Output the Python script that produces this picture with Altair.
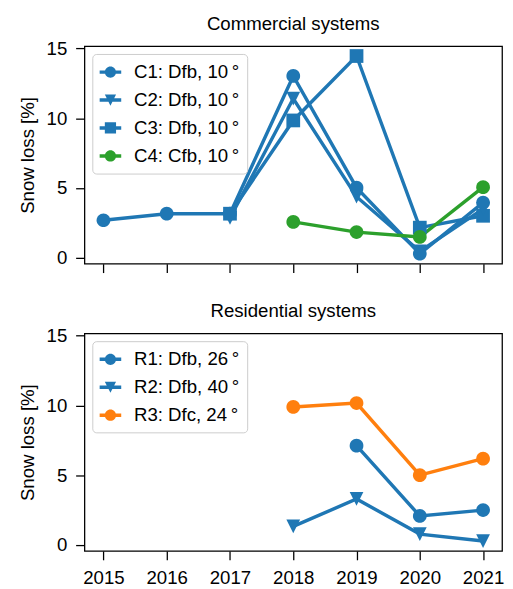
import altair as alt
import pandas as pd

years = [2015, 2016, 2017, 2018, 2019, 2020, 2021]

# Commercial systems
commercial_names = ["C1: Dfb, 10\u2009°", "C2: Dfb, 10\u2009°", "C3: Dfb, 10\u2009°", "C4: Cfb, 10\u2009°"]
c1 = [2.68, 3.15, 3.15, 13.03, 5.02, 0.28, 3.94]
c2 = [None, None, 2.85, 11.41, 4.37, 0.45, 3.50]
c3 = [None, None, 3.15, 9.84, 14.46, 2.15, 3.00]
c4 = [None, None, None, 2.56, 1.83, 1.48, 5.05]
commercial_colors = ["#1f77b4", "#1f77b4", "#1f77b4", "#2ca02c"]
commercial_markers = ["circle", "triangle", "square", "circle"]

# Residential systems
residential_names = ["R1: Dfb, 26\u2009°", "R2: Dfb, 40\u2009°", "R3: Dfc, 24\u2009°"]
r1 = [None, None, None, None, 7.11, 2.07, 2.49]
r2 = [None, None, None, 1.32, 3.29, 0.77, 0.27]
r3 = [None, None, None, 9.89, 10.17, 5.00, 6.18]
residential_colors = ["#1f77b4", "#1f77b4", "#ff7f0e"]
residential_markers = ["circle", "triangle", "circle"]

y_ticks = [0, 5, 10, 15]

FONT = "Liberation Sans"
FS = 19

PLOT_PATHS = {
    "circle": "M1,0 A1,1 0 1,1 -1,0 A1,1 0 1,1 1,0 Z",
    "triangle": "M-1,-1 L1,-1 L0,1 Z",
    "square": "M-1,-1 L1,-1 L1,1 L-1,1 Z",
}
_bar = "M-1,-0.16 L1,-0.16 L1,0.16 L-1,0.16 Z "
LEGEND_PATHS = {
    "circle": _bar + "M0.52,0 A0.52,0.52 0 1,1 -0.52,0 A0.52,0.52 0 1,1 0.52,0 Z",
    "triangle": _bar + "M-0.52,-0.52 L0.52,-0.52 L0,0.52 Z",
    "square": _bar + "M-0.52,-0.52 L0.52,-0.52 L0.52,0.52 L-0.52,0.52 Z",
}


def panel(title, names, series, colors, markers, draw_order, show_labels):
    rows = []
    for idx in draw_order:
        for yr, v in zip(years, series[idx]):
            if v is not None:
                rows.append({"year": yr, "value": v, "series": names[idx]})
    df = pd.DataFrame(rows)

    x = alt.X(
        "year:Q",
        scale=alt.Scale(domain=[2014.7, 2021.3], nice=False, zero=False),
        axis=alt.Axis(values=years, format="d", labels=show_labels, title=None),
    )
    y = alt.Y(
        "value:Q",
        scale=alt.Scale(domain=[-0.44, 15.17], nice=False, zero=False),
        axis=alt.Axis(values=y_ticks, title="Snow loss [%]"),
    )
    color = alt.Color("series:N", scale=alt.Scale(domain=names, range=colors), legend=None)
    shape = alt.Shape(
        "series:N",
        scale=alt.Scale(domain=names, range=[PLOT_PATHS[m] for m in markers]),
        legend=None,
    )

    base = alt.Chart(df)
    lines = base.mark_line(strokeWidth=3.5).encode(x=x, y=y, color=color)
    points = base.mark_point(filled=True, opacity=1, size=196, strokeWidth=0).encode(
        x=x, y=y, color=color, shape=shape
    )

    leg = dict(
        title=None,
        orient="top-left",
        offset=8,
        padding=7.5,
        strokeColor="#cccccc",
        fillColor="rgba(255,255,255,0.8)",
        cornerRadius=4,
        labelFont=FONT,
        labelFontSize=FS,
        labelColor="black",
        labelOffset=13,
        symbolSize=484,
        symbolStrokeWidth=0,
        symbolOpacity=1,
        rowPadding=7.5,
    )
    legend_layer = (
        alt.Chart(df)
        .transform_filter("false")
        .mark_point(filled=True, opacity=1, size=484, strokeWidth=0)
        .encode(
            color=alt.Color("series:N", scale=alt.Scale(domain=names, range=colors), legend=alt.Legend(**leg)),
            shape=alt.Shape(
                "series:N",
                scale=alt.Scale(domain=names, range=[LEGEND_PATHS[m] for m in markers]),
                legend=alt.Legend(**leg),
            ),
        )
    )

    return (
        alt.layer(alt.layer(lines, points), legend_layer)
        .resolve_scale(color="independent", shape="independent")
        .properties(
            width=426,
            height=222,
            title=alt.TitleParams(title, anchor="middle", frame="group"),
        )
    )


top = panel("Commercial systems", commercial_names, [c1, c2, c3, c4],
            commercial_colors, commercial_markers, [2, 1, 0, 3], False)
bottom = panel("Residential systems", residential_names, [r1, r2, r3],
               residential_colors, residential_markers, [0, 1, 2], True)

chart = (
    alt.vconcat(top, bottom, spacing=27)
    .properties(padding={"left": 10, "top": 0, "right": 0, "bottom": 0})
    .configure_view(stroke="black", strokeWidth=1.3)
    .configure_axis(
        domain=False,
        grid=False,
        tickColor="black",
        tickWidth=1.3,
        tickSize=9,
        labelFont=FONT,
        labelFontSize=FS,
        labelColor="black",
        labelPadding=9,
        titleFont=FONT,
        titleFontSize=FS,
        titleFontWeight="normal",
        titleColor="black",
        titlePadding=9,
    )
    .configure_title(font=FONT, fontSize=FS, fontWeight="normal", color="black", offset=6)
)

chart.save("out.html", embed_options={"renderer": "svg", "actions": False})
